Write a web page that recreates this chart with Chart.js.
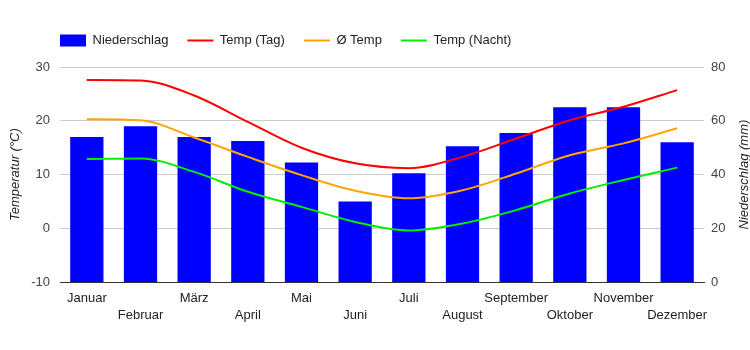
<!DOCTYPE html>
<html>
<head>
<meta charset="utf-8">
<script src="https://cdn.jsdelivr.net/npm/chart.js@4"></script>
<style>
  html, body { margin: 0; padding: 0; background: #fff; }
  #wrap { width: 750px; height: 350px; }
</style>
</head>
<body>
<div id="wrap"><canvas id="myChart" width="750" height="350"></canvas></div>
<script>
const months = ['Januar', 'Februar', 'März', 'April', 'Mai', 'Juni', 'Juli', 'August', 'September', 'Oktober', 'November', 'Dezember'];
const precipitation = [54, 58, 54, 52.5, 44.5, 30, 40.5, 50.5, 55.5, 65, 65, 52];
const tempDay = [27.6, 27.5, 24.7, 19.8, 15.0, 12.1, 11.2, 13.3, 16.7, 20.1, 22.6, 25.7];
const tempAvg = [20.3, 20.1, 16.9, 13.3, 9.9, 7.0, 5.6, 7.1, 10.2, 13.6, 15.8, 18.6];
const tempNight = [12.9, 13.0, 10.5, 6.8, 4.0, 1.2, -0.4, 0.9, 3.4, 6.5, 9.0, 11.3];

// alternate the month names over two rows
const labels = months.map((m, i) => i % 2 == 0 ? [m, ''] : ['', m]);

Chart.defaults.font.family = '"Liberation Sans", Arial, sans-serif';
Chart.defaults.font.size = 13;
Chart.defaults.color = '#444';

// extra room under the legend, and move it so it starts at the plot's left edge
const legendShift = {
    id: 'legendShift',
    beforeInit(chart) {
        const fit = chart.legend.fit;
        chart.legend.fit = function () {
            fit.bind(chart.legend)();
            this.height += 10;
        };
    },
    afterLayout(chart) {
        chart.legend.left = chart.chartArea.left - chart.options.plugins.legend.labels.padding;
    }
};

// right axis title reads bottom-to-top like the left one
const rightTitle = {
    id: 'rightTitle',
    afterDraw(chart) {
        const area = chart.chartArea;
        const c = chart.ctx;
        c.save();
        c.translate(744, (area.top + area.bottom) / 2);
        c.rotate(-Math.PI / 2);
        c.font = 'italic 13px "Liberation Sans", Arial, sans-serif';
        c.fillStyle = '#222';
        c.textAlign = 'center';
        c.textBaseline = 'middle';
        c.fillText('Niederschlag (mm)', 0, 0);
        c.restore();
    }
};

const ctx = document.getElementById('myChart').getContext('2d');

new Chart(ctx, {
    type: 'bar',
    data: {
        labels: labels,
        datasets: [{
            type: 'bar',
            label: 'Niederschlag',
            data: precipitation,
            backgroundColor: '#0000ff',
            yAxisID: 'y1',
            pointStyle: 'rect',
            categoryPercentage: 1,
            barPercentage: 0.62,
            order: 1
        }, {
            type: 'line',
            label: 'Temp (Tag)',
            data: tempDay,
            borderColor: '#ff0000',
            backgroundColor: '#ff0000',
            borderWidth: 2,
            pointRadius: 0,
            pointStyle: 'line',
            cubicInterpolationMode: 'monotone',
            yAxisID: 'y',
            order: 0
        }, {
            type: 'line',
            label: 'Ø Temp',
            data: tempAvg,
            borderColor: '#ffa500',
            backgroundColor: '#ffa500',
            borderWidth: 2,
            pointRadius: 0,
            pointStyle: 'line',
            cubicInterpolationMode: 'monotone',
            yAxisID: 'y',
            order: 0
        }, {
            type: 'line',
            label: 'Temp (Nacht)',
            data: tempNight,
            borderColor: '#00ee00',
            backgroundColor: '#00ee00',
            borderWidth: 2,
            pointRadius: 0,
            pointStyle: 'line',
            cubicInterpolationMode: 'monotone',
            yAxisID: 'y',
            order: 0
        }]
    },
    options: {
        responsive: false,
        animation: false,
        layout: {
            padding: { top: 15, right: 0, bottom: 26, left: 0 }
        },
        scales: {
            x: {
                offset: true,
                grid: { display: false },
                border: { display: true, color: '#333', width: 1 },
                ticks: {
                    autoSkip: false,
                    maxRotation: 0,
                    color: '#222',
                    padding: 0,
                    font: { lineHeight: 1.3 }
                }
            },
            y: {
                position: 'left',
                min: -10,
                max: 30,
                ticks: { stepSize: 10, color: '#444', padding: 10 },
                grid: { color: '#cccccc', drawTicks: false },
                border: { display: false },
                title: {
                    display: true,
                    text: 'Temperatur (°C)',
                    color: '#222',
                    font: { style: 'italic', size: 13 },
                    padding: { top: 8, bottom: 4 }
                },
                afterFit: (scale) => { scale.width = 60; }
            },
            y1: {
                position: 'right',
                min: 0,
                max: 80,
                ticks: { stepSize: 20, color: '#444', padding: 7 },
                grid: { display: false, drawTicks: false },
                border: { display: false },
                afterFit: (scale) => { scale.width = 46; }
            }
        },
        plugins: {
            legend: {
                position: 'top',
                align: 'start',
                labels: {
                    usePointStyle: true,
                    pointStyleWidth: 26,
                    boxHeight: 12,
                    padding: 19,
                    color: '#222',
                    font: { size: 13 },
                    sort: (a, b) => a.datasetIndex - b.datasetIndex
                }
            },
            tooltip: { enabled: false }
        }
    },
    plugins: [legendShift, rightTitle]
});
</script>
</body>
</html>
